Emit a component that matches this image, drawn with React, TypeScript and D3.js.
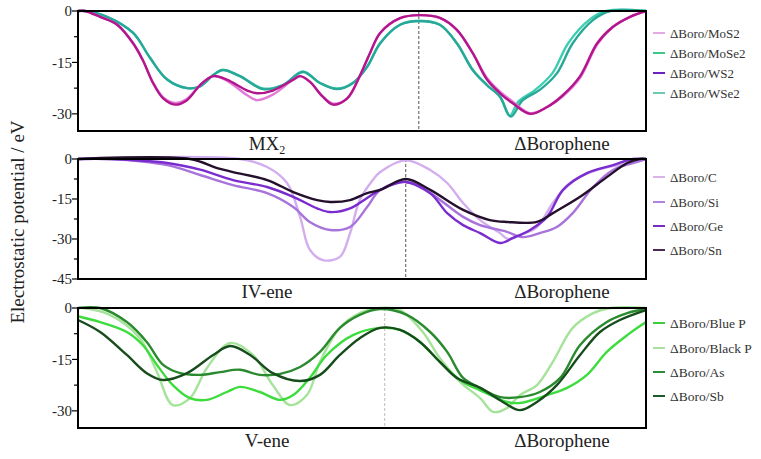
import React from 'react'
import * as d3 from 'd3'

type Pt = [number, number]

// x: relative position across the cell (0-100), y: potential in eV
const mx2Names = ['ΔBoro/MoS2', 'ΔBoro/MoSe2', 'ΔBoro/WS2', 'ΔBoro/WSe2']
const mx2LegendColors = ['#e3a9e3', '#3cc88a', '#6e1fc0', '#6ccab2']
const mx2LineColors = ['#e27ad8', '#3fcdb0', '#b3168c', '#27a898']

const mos2: Pt[] = [[0,0],[1.2,0],[3.9,-1.7],[6.9,-4],[9.7,-9.4],[11.4,-14.3],[13.2,-20.8],[15,-25.2],[17.1,-26.8],[19.2,-25.6],[21.5,-21.6],[23.8,-19],[26.2,-20.3],[29.8,-24.6],[31.5,-26],[34.3,-24.4],[37.9,-20],[39.1,-19],[40.8,-20.6],[43.1,-25],[44.9,-27],[47.4,-25.5],[49.6,-19],[51.4,-12.3],[53.2,-6.4],[56.7,-2.1],[60,-1.2],[63.7,-2],[66.7,-5.5],[69.5,-12.3],[72,-19.5],[74.3,-23.5],[76.6,-26.5],[79.6,-29.8],[82.6,-28],[85.4,-24.8],[88.4,-19.5],[91.4,-9.8],[94.2,-4.6],[97.2,-1.7],[100,0]]
const mose2: Pt[] = [[0,0],[1.2,0],[5.1,-1.7],[9.7,-6.4],[12.7,-13.7],[15.7,-20],[19.2,-22.5],[21.5,-22],[23.8,-18.7],[25.5,-17.2],[28.5,-19],[32.6,-22.6],[36.1,-21.6],[39.6,-17.6],[42.6,-21],[45.6,-22.6],[48.4,-21],[50.9,-16.3],[53.2,-9.4],[56.7,-4],[60,-2.9],[63.7,-4],[66.7,-9.4],[69.5,-17.2],[72,-21.6],[74.3,-25],[76,-30.6],[77.5,-26.5],[80.5,-23],[83.5,-18.2],[86.3,-9.4],[90,-2.6],[93,0],[100,0]]
const ws2: Pt[] = [[0,0],[1.2,0],[3.9,-1.7],[6.9,-4],[9.7,-9.4],[11.4,-14.3],[13.2,-21],[15,-25.5],[17.1,-27.3],[19.2,-26],[21.5,-21.6],[23.8,-19],[26.2,-20],[29.8,-23.2],[31.5,-24],[34.3,-23.2],[37.9,-20],[39.1,-19],[40.8,-20.6],[43.1,-25],[44.9,-27.3],[47.4,-25.5],[49.6,-19],[51.4,-12.3],[53.2,-6.4],[56.7,-2.1],[60,-1.2],[63.7,-2],[66.7,-5.5],[69.5,-12.3],[72,-20],[74.3,-24],[76.6,-27],[79.6,-30],[82.6,-28],[85.4,-24.5],[88.4,-19],[91.4,-9.4],[94.2,-4.6],[97.2,-1.7],[100,0]]
const wse2: Pt[] = [[0,0],[1.2,0],[5.1,-1.7],[9.7,-6.4],[12.7,-13.7],[15.7,-20],[19.2,-22.5],[21.5,-22],[23.8,-18.7],[25.5,-17.2],[28.5,-19],[32.6,-22.8],[36.1,-21.6],[39.6,-17.8],[42.6,-21],[45.6,-22.8],[48.4,-21],[50.9,-16.3],[53.2,-9.4],[56.7,-4],[60,-2.9],[63.7,-4],[66.7,-9.4],[69.5,-17.2],[72,-21.6],[74.3,-25],[76.2,-30.8],[78.3,-26],[81.3,-23],[84.3,-18.2],[87.1,-9.4],[90.7,-2.6],[93.7,0],[100,0]]

const ivNames = ['ΔBoro/C', 'ΔBoro/Si', 'ΔBoro/Ge', 'ΔBoro/Sn']
const ivLegendColors = ['#d9b3ea', '#b183da', '#7a2cc2', '#4a2a52']
const ivLineColors = ['#d2aeee', '#a874dc', '#7a2ccf', '#24102c']

const ivC: Pt[] = [[0,0],[28.5,0],[33.3,-3],[36.8,-9],[39.1,-21.7],[40.8,-34],[43.1,-37.9],[46.1,-36.7],[47.9,-27.8],[49.6,-15.4],[51.9,-7.9],[53.2,-4.9],[57.7,-0.5],[62,-4.1],[65,-9],[67.8,-16.5],[70.8,-22.9],[74.3,-27.8],[75.7,-30],[77.8,-28.5],[80.8,-25.5],[83.6,-16.5],[86.6,-9],[91.4,-4.1],[97.2,-1.5],[100,0]]
const ivSi: Pt[] = [[0,0],[5.6,0],[15.7,-2.3],[21.5,-6],[27.3,-9.8],[33.3,-12.8],[37.9,-18],[40.8,-23.6],[44.4,-26.6],[47.9,-25.5],[50.9,-18],[53.2,-11.6],[57.7,-8.6],[62,-12.8],[67.8,-21.7],[70.8,-24.8],[75.5,-27.3],[78.3,-29.3],[81.3,-27.8],[84.3,-25.5],[87.1,-20.3],[90.7,-10.5],[94.2,-4.1],[98.9,-0.8],[100,0]]
const ivGe: Pt[] = [[0,0],[5.6,0],[15.7,-1.5],[21.5,-4],[27.3,-7.9],[33.3,-10.5],[37.9,-14.2],[42.1,-18.5],[44.4,-19.9],[47.9,-18.5],[50.9,-14.6],[53.2,-11.6],[57.7,-8.6],[62,-12.8],[65,-20.3],[67.8,-24.8],[70.8,-27.8],[74.3,-31.5],[76.6,-29.6],[79.6,-26.6],[82.6,-21.7],[85.4,-11.6],[89.6,-5.3],[94.2,-2.3],[97.7,0],[100,0]]
const ivSn: Pt[] = [[0,0],[19.7,0],[24.5,-3.4],[27.3,-4.9],[33.3,-7.9],[37.9,-12.4],[42.1,-15.4],[44.4,-16.1],[47.9,-15.4],[50.9,-12.8],[53.2,-11.6],[57.7,-7.5],[62,-11.6],[67.8,-19.1],[72.5,-22.9],[75.5,-23.6],[80.8,-23.6],[83.6,-20.3],[88.4,-14.2],[93.1,-6.8],[96.7,-1.5],[98.9,0],[100,0]]

const vNames = ['ΔBoro/Blue P', 'ΔBoro/Black P', 'ΔBoro/As', 'ΔBoro/Sb']
const vLegendColors = ['#3ccc3c', '#a9e0a1', '#2a8c3a', '#1c5a2a']
const vLineColors = ['#3ddc3d', '#a5e39a', '#2a8a2e', '#174d1c']

const vBlueP: Pt[] = [[0,-2.4],[3.9,-4.1],[8.6,-7],[11.4,-10.8],[13.9,-16.6],[16.7,-22.5],[19.7,-26.3],[22.7,-26.8],[26.2,-24.5],[28.5,-23],[32,-24.5],[35.6,-26.8],[37.9,-25.4],[40.8,-20.4],[43.8,-13.7],[48.4,-7.9],[53.2,-5.8],[56.7,-6.4],[60.2,-9.9],[63.7,-15.7],[67.8,-21.6],[70.8,-24],[75.5,-27.4],[77.8,-27.7],[82.6,-25.4],[86.1,-23.3],[89.6,-19.5],[93.1,-12.8],[96.7,-7.9],[100,-4.1]]
const vBlackP: Pt[] = [[0,0],[0.9,0],[5.6,-2],[10.9,-8.8],[13.9,-18.7],[16.7,-28.3],[19.7,-26.3],[22.7,-17.5],[26.8,-10.2],[30.8,-13.7],[34.3,-22.5],[37.3,-28.3],[40.3,-25.4],[42.6,-15.7],[46.1,-5.8],[49.6,-1.5],[53.2,0],[56.7,-0.6],[60.7,-7],[63.7,-14.6],[67.3,-21.6],[70.8,-26.3],[73.1,-30.3],[75.5,-29.2],[77.8,-25.4],[80.8,-22.5],[83.6,-15.7],[87.1,-5.8],[90.7,-1.5],[93.7,0],[100,0]]
const vAs: Pt[] = [[0,0],[3.9,0],[8.6,-4.1],[12.1,-9.9],[15,-16.6],[18,-19],[21.5,-19.5],[25,-18.7],[28.5,-18],[32,-19.5],[35.6,-19.2],[39.1,-17.2],[42.6,-12.8],[46.1,-5.8],[49.6,-2],[53.2,-0.3],[57.9,-2],[62,-7],[65,-12.8],[67.8,-20.4],[70.8,-23.3],[74.3,-26],[77.8,-26],[81.3,-24.5],[84.9,-20.4],[88.4,-10.8],[93.1,-4.1],[96.7,-1.5],[100,-0.3]]
const vSb: Pt[] = [[0,-3.5],[3.9,-7],[8.6,-13.7],[12.1,-19],[15,-21],[19.2,-19],[23.8,-13.7],[26.8,-11.1],[30.3,-13.7],[34.3,-19],[39.1,-21.3],[42.6,-19.5],[46.1,-13.7],[49.6,-8.8],[53.2,-5.8],[56.7,-6.4],[60.2,-9.9],[63.7,-15.7],[66.7,-20.4],[70.8,-23.3],[74.8,-27.4],[77.8,-29.8],[80.8,-27.4],[84.3,-22.5],[88.4,-13.7],[91.9,-7],[95.4,-3.5],[100,-0.6]]

const W = 761
const H = 459
const left = 78
const right = 646
const font = "'Liberation Serif', 'Times New Roman', 'DejaVu Serif', serif"

const panels = [
  { top: 11, bottom: 131, yMin: -35, ticks: [0, -15, -30], minor: [-7.5, -22.5],
    series: [mos2, mose2, ws2, wse2], order: [1, 3, 0, 2], names: mx2Names,
    legendColors: mx2LegendColors, lineColors: mx2LineColors,
    divider: 60, dividerColor: '#555', label: 'MX', sub: '2', legendY: [33, 53, 73, 93], legendSize: 13 },
  { top: 159, bottom: 279, yMin: -45, ticks: [0, -15, -30, -45], minor: [-7.5, -22.5, -37.5],
    series: [ivC, ivSi, ivGe, ivSn], order: [0, 1, 2, 3], names: ivNames,
    legendColors: ivLegendColors, lineColors: ivLineColors,
    divider: 57.7, dividerColor: '#555', label: 'IV-ene', sub: '', legendY: [177, 202, 226, 250], legendSize: 13 },
  { top: 308, bottom: 428, yMin: -35, ticks: [0, -15, -30], minor: [-7.5, -22.5],
    series: [vBlueP, vBlackP, vAs, vSb], order: [1, 0, 2, 3], names: vNames,
    legendColors: vLegendColors, lineColors: vLineColors,
    divider: 54, dividerColor: '#bbb', label: 'V-ene', sub: '', legendY: [323, 348, 372, 396], legendSize: 13.5 },
]

const x = d3.scaleLinear().domain([0, 100]).range([left, right])

const Panel = ({ p }: { p: typeof panels[number] }) => {
  const y = d3.scaleLinear().domain([p.yMin, 0]).range([p.bottom, p.top])
  const line = d3.line<Pt>()
    .x(d => x(d[0]))
    .y(d => y(d[1]))
    .curve(d3.curveCatmullRom.alpha(0.5))
  return (
    <g>
      <line x1={x(p.divider)} x2={x(p.divider)} y1={p.top} y2={p.bottom}
        stroke={p.dividerColor} strokeWidth={1} strokeDasharray="3,2" />
      {p.order.map(i => (
        <path key={i} d={line(p.series[i]) || ''} fill="none"
          stroke={p.lineColors[i]} strokeWidth={2.4} strokeLinejoin="round" />
      ))}
      <rect x={left} y={p.top} width={right - left} height={p.bottom - p.top}
        fill="none" stroke="#000" strokeWidth={2} />
      {p.ticks.map(t => (
        <g key={t}>
          <line x1={left - 6} x2={left} y1={y(t)} y2={y(t)} stroke="#000" strokeWidth={1.2} />
          <text x={left - 6} y={y(t)} dy="0.35em" textAnchor="end"
            style={{ fontFamily: font, fontSize: 15 }} fill="#222">{t}</text>
        </g>
      ))}
      {p.minor.map(t => (
        <line key={t} x1={left - 4} x2={left} y1={y(t)} y2={y(t)} stroke="#000" strokeWidth={1.2} />
      ))}
      <text x={267} y={p.bottom + 19} textAnchor="middle" style={{ fontFamily: font, fontSize: 19 }} fill="#222">
        {p.label}
        {p.sub && <tspan dy={4} style={{ fontSize: 12 }}>{p.sub}</tspan>}
      </text>
      <text x={562} y={p.bottom + 19} textAnchor="middle" style={{ fontFamily: font, fontSize: 19 }} fill="#222">
        ΔBorophene
      </text>
      {p.names.map((n, i) => (
        <g key={n}>
          <line x1={653} x2={665} y1={p.legendY[i]} y2={p.legendY[i]}
            stroke={p.legendColors[i]} strokeWidth={2} />
          <text x={670} y={p.legendY[i]} dy="0.35em"
            style={{ fontFamily: font, fontSize: p.legendSize }} fill="#333">{n}</text>
        </g>
      ))}
    </g>
  )
}

const App = () => {
  return (
    <svg width={W} height={H} style={{ position: 'absolute', left: 0, top: 0, background: '#fff' }}>
      <rect width={W} height={H} fill="#fff" />
      {panels.map((p, i) => <Panel key={i} p={p} />)}
      <text transform="translate(24,222) rotate(-90)" textAnchor="middle"
        style={{ fontFamily: font, fontSize: 19 }} fill="#222">Electrostatic potential / eV</text>
    </svg>
  )
}

export default App
